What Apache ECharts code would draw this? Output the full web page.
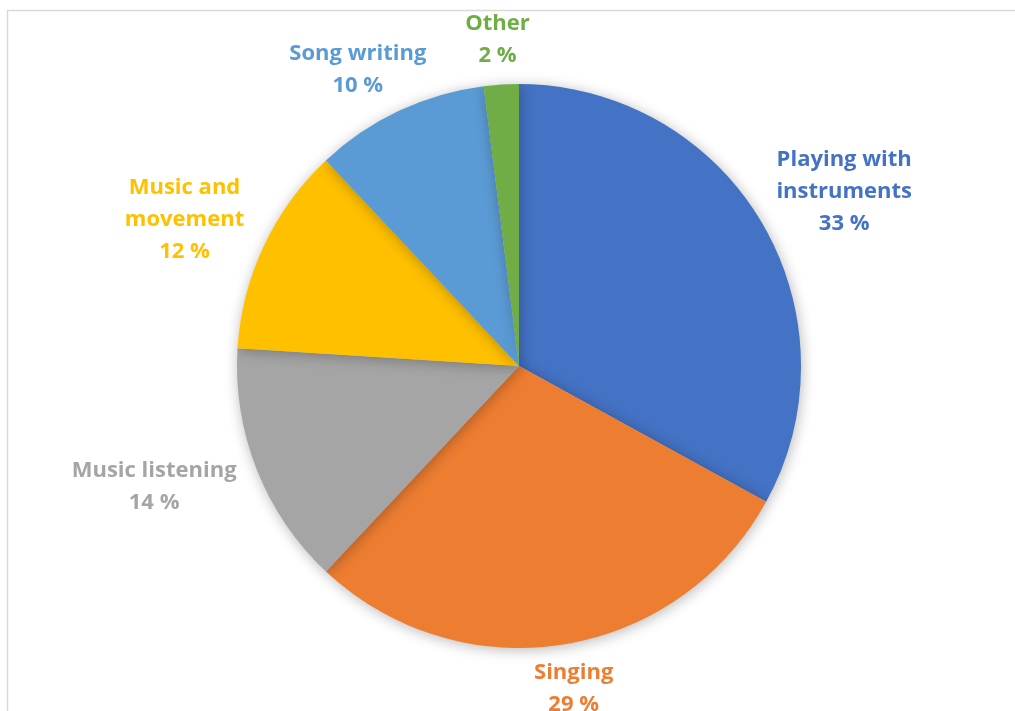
<!DOCTYPE html>
<html>
<head>
<meta charset="utf-8">
<script src="https://cdn.jsdelivr.net/npm/echarts@6/dist/echarts.min.js"></script>
<style>
  html, body { margin: 0; padding: 0; background: #fff; }
  #chart { width: 1015px; height: 711px; }
</style>
</head>
<body>
<div id="chart"></div>
<script>
const categories = ['Playing with\ninstruments', 'Singing', 'Music listening', 'Music and\nmovement', 'Song writing', 'Other'];
const values = [33, 29, 14, 12, 10, 2];
const colors = ['#4472C4', '#ED7D31', '#A5A5A5', '#FFC000', '#5B9BD5', '#70AD47'];

const CENTER = [519, 366];
const RADIUS = 282;
const GAP_X = 28, GAP_Y = 13;

const total = values.reduce((a, b) => a + b, 0);
const midAngles = [];
let acc = 0;
values.forEach(v => { midAngles.push((acc + v / 2) / total * Math.PI * 2); acc += v; });

const chart = echarts.init(document.getElementById('chart'));

chart.setOption({
  backgroundColor: '#fff',
  animation: false,
  graphic: [{
    type: 'rect',
    shape: { x: 7.5, y: 10.5, width: 1100, height: 800 },
    style: { fill: 'none', stroke: '#d9d9d9', lineWidth: 1.5 },
    z: -1
  }],
  series: [{
    type: 'pie',
    center: CENTER,
    radius: RADIUS,
    startAngle: 90,
    clockwise: true,
    data: categories.map((c, i) => ({
      name: c,
      value: values[i],
      itemStyle: { color: colors[i] },
      label: { color: colors[i] }
    })),
    itemStyle: {
      borderWidth: 0,
      shadowBlur: 14,
      shadowColor: 'rgba(0,0,0,0.28)',
      shadowOffsetX: 1,
      shadowOffsetY: 2
    },
    emphasis: { disabled: true },
    label: {
      show: true,
      position: 'outside',
      formatter: p => p.name + '\n' + p.value + ' %',
      fontFamily: 'Open Sans',
      fontWeight: 'bold',
      fontSize: 22,
      lineHeight: 32,
      align: 'center'
    },
    labelLine: { show: false },
    labelLayout: function (params) {
      const a = midAngles[params.dataIndex];
      const dx = Math.sin(a), dy = -Math.cos(a);
      const ex = CENTER[0] + RADIUS * dx, ey = CENTER[1] + RADIUS * dy;
      const w = params.labelRect.width, h = params.labelRect.height;
      return {
        x: ex + dx * (GAP_X + w / 2),
        y: ey + dy * (GAP_Y + h / 2),
        align: 'center',
        verticalAlign: 'middle'
      };
    }
  }]
});
</script>
</body>
</html>
